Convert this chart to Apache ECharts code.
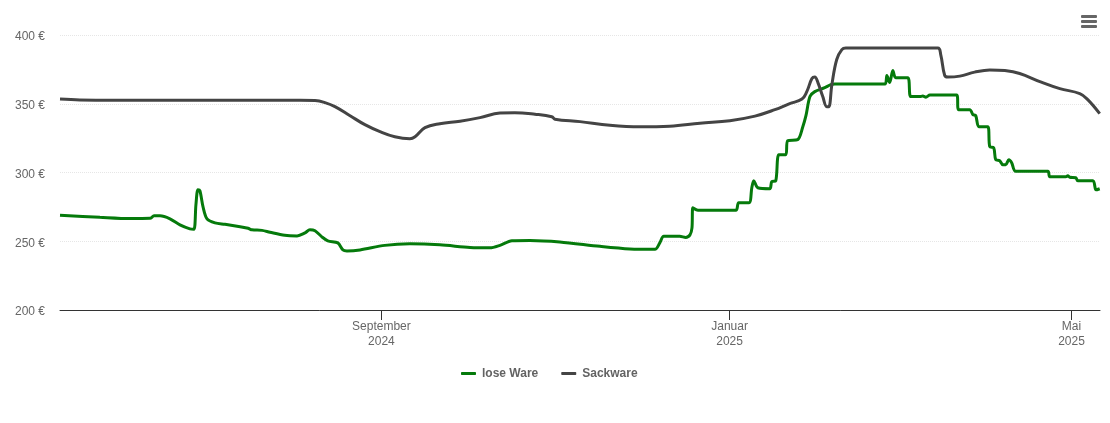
<!DOCTYPE html>
<html><head><meta charset="utf-8">
<style>html,body{margin:0;padding:0;background:#fff;overflow:hidden}#c{width:1110px;height:423px}</style>
<script src="https://cdn.jsdelivr.net/npm/echarts@6/dist/echarts.min.js"></script>
</head><body><div id="c"></div>
<script>
// X values are days counted from the left edge of the one-year window
const windowDays = 365;
const tickDays = [112.8, 235, 355]; // 1 Sep 2024, 1 Jan 2025, 1 May 2025
const tickLabels = ['September\n2024', 'Januar\n2025', 'Mai\n2025'];
const yTicks = [200, 250, 300, 350, 400];
const seriesNames = ['lose Ware', 'Sackware'];

const looseDays = [0,14,24.6,31.6,33,35.1,38.6,42.1,45.6,47,47.7,48.4,49.1,50.2,51.6,54.4,57.9,63.2,66,67.4,70.9,73.7,78.9,83.2,86,87.7,89.5,91.9,94,97.5,99.3,100.7,105.3,114,122.8,133.3,143.9,150.9,154.4,158.6,164.9,175.4,189.5,200,208.8,210.5,211.9,217.5,219.6,221.1,221.8,222.1,223.9,237.2,238.2,241.8,242.8,243.5,244.9,249.1,249.8,251.2,252.3,254.7,255.4,258.9,260.7,261.8,263.2,264.9,268.4,270.5,271.9,289.5,290.2,291.2,292.3,293.3,297.5,298.6,301.8,302.8,303.9,305.3,314.7,315.4,319.3,320.4,321.4,322.5,325.6,326.3,327.7,328.4,329.8,330.9,331.9,333,334,335.4,346.7,347.4,353,353.7,354.4,356.5,357.2,362.5,363.6,364.9];
const loosePrices = [268.9,267.4,266.5,266.7,268.5,268.5,266.3,261.9,259,258.7,276.5,287.4,286.7,275,266.3,263.4,262.3,260.5,259.4,258.3,257.9,256.5,254.3,253.9,256.1,258.3,257.6,253.2,250.3,248.8,243.7,243,243.7,247,248.1,247.4,245.5,245.2,247,250.3,250.6,249.5,246.3,244.4,244.1,248.8,253.6,253.6,252.8,254.6,259.7,274.3,272.5,272.5,278,278,288.9,294,288.9,288.2,293.3,294,312.9,312.9,323.1,323.9,333.3,341.3,355.2,358.8,361.7,363.9,364.3,364.3,370.5,365.4,374.1,369,369,355.2,355.2,355.6,354.8,356.3,356.3,345.7,345.7,342.1,341.3,333.3,333.3,318.8,318,309.3,308.6,305.6,305.6,309.3,307.1,300.9,300.9,296.9,296.9,297.6,296.5,296.2,294,294,287.4,288.2];

const sackDays = [0,7,17.5,49.1,84.2,89.5,93,96.5,101.8,107,112.3,117.5,122.8,124.6,128.1,133.3,140.4,147.4,154.4,159.6,166.7,172.6,173.7,182.5,193,203.5,214,224.6,235.1,243.9,250.9,256.1,260.4,262.1,263.9,264.9,266,267.7,269.1,269.8,270.9,272.6,274.4,275.8,287.7,308.1,309.1,310.5,311.6,315.8,321,326.3,331.6,336.8,343.9,350.9,357.9,360.7,364.9];
const sackPrices = [353.4,352.8,352.5,352.5,352.5,352.3,350.8,347.9,341.3,334.8,329.7,326,324.6,326,332.6,335.5,337.3,339.9,343.2,343.5,342.4,340.6,338.8,337,334.4,333.3,333.7,335.9,337.7,341,345.7,350.1,353.4,358.8,368.3,369.4,365.4,355.2,347.9,347.9,363.9,382.2,389.4,390.5,390.5,390.5,385.8,370.5,369.4,370.1,373,374.6,374.1,372,366.1,361,357.4,353,342.8];

const toPoints = (days, prices) => days.map((d, i) => [d, prices[i]]);
const font = '"Liberation Sans", Arial, sans-serif';
const colors = ['#057a0b', '#444444'];

const chart = echarts.init(document.getElementById('c'), null, {renderer: 'canvas'});
chart.setOption({
  animation: false,
  color: colors,
  textStyle: {fontFamily: font},
  grid: {left: 60, right: 10, top: 35, bottom: 113, containLabel: false},
  legend: {
    left: 456, top: 362.5, icon: 'roundRect', itemWidth: 15, itemHeight: 3, itemGap: 23,
    data: seriesNames,
    textStyle: {color: '#636363', fontWeight: 'bold', fontSize: 12, fontFamily: font, padding: [0, 0, 0, 1]}
  },
  xAxis: {
    type: 'value',
    min: 0,
    max: windowDays,
    splitLine: {show: false},
    axisLine: {show: true, lineStyle: {color: '#333', width: 1}},
    axisTick: {show: true, length: 10, customValues: tickDays, lineStyle: {color: '#333', width: 1}},
    axisLabel: {
      show: true, customValues: tickDays, color: '#666', fontSize: 12, fontFamily: font, lineHeight: 15, margin: 9,
      showMinLabel: true, showMaxLabel: true, hideOverlap: false,
      formatter: v => tickLabels[tickDays.indexOf(v)] || ''
    }
  },
  yAxis: {
    type: 'value', min: yTicks[0], max: yTicks[yTicks.length - 1], interval: 50,
    axisLine: {show: false}, axisTick: {show: false},
    splitLine: {show: true, lineStyle: {color: '#e6e6e6', type: 'dotted', width: 1}},
    axisLabel: {color: '#666', fontSize: 12, fontFamily: font, margin: 15, verticalAlign: 'top', lineHeight: 4, formatter: v => v + ' €'}
  },
  series: [
    {name: seriesNames[0], type: 'line', data: toPoints(looseDays, loosePrices), showSymbol: false, smooth: 0.3, lineStyle: {width: 3, color: colors[0]}, itemStyle: {color: colors[0]}},
    {name: seriesNames[1], type: 'line', data: toPoints(sackDays, sackPrices), showSymbol: false, smooth: 0.4, lineStyle: {width: 3, color: colors[1]}, itemStyle: {color: colors[1]}}
  ],
  graphic: [15, 20, 25].map(y => ({
    type: 'rect', shape: {x: 1081, y: y, width: 16, height: 3, r: 1}, style: {fill: '#666'}, silent: true
  }))
});
</script></body></html>
